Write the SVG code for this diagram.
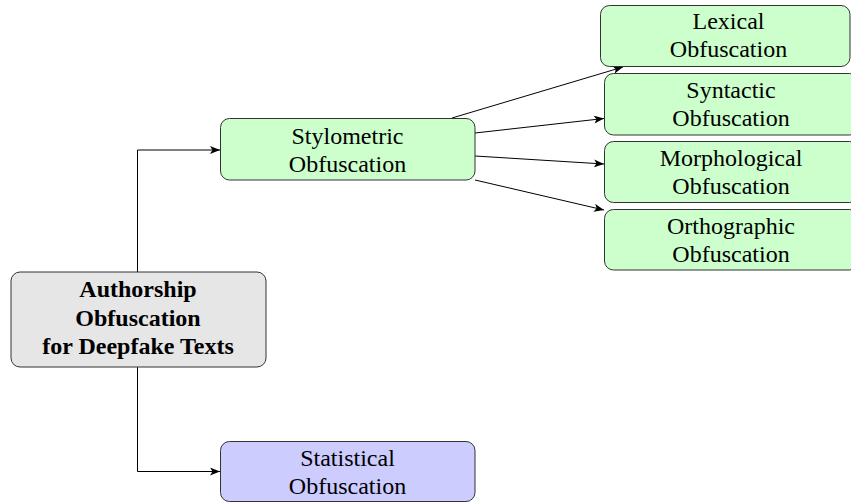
<svg xmlns="http://www.w3.org/2000/svg" width="851" height="503" viewBox="0 0 851 503">
  <style>
    .box { stroke: #333333; stroke-width: 1; }
    .root { fill: #e6e6e6; }
    .green { fill: #ccffcc; }
    .blue { fill: #ccccff; }
    .edge { fill: none; stroke: #000000; stroke-width: 1; }
  </style>
  <defs>
    <marker id="arrow" viewBox="0 0 10 8" refX="10" refY="4" markerWidth="10" markerHeight="8" markerUnits="userSpaceOnUse" orient="auto">
      <path d="M0,0 L10,4 L0,8 L2.5,4 Z" fill="#000000"/>
    </marker>
  </defs>

  <rect width="851" height="503" fill="#ffffff"/>

  <!-- connectors -->
  <g id="connectors">
    <polyline class="edge" points="137.5,272 137.5,150 220,150" marker-end="url(#arrow)"/>
    <polyline class="edge" points="137.5,367 137.5,471.5 220,471.5" marker-end="url(#arrow)"/>
    <line class="edge" x1="452" y1="118" x2="623" y2="67" marker-end="url(#arrow)"/>
    <line class="edge" x1="475" y1="133" x2="604" y2="118.5" marker-end="url(#arrow)"/>
    <line class="edge" x1="475" y1="156" x2="604" y2="164" marker-end="url(#arrow)"/>
    <line class="edge" x1="475" y1="180" x2="604" y2="210" marker-end="url(#arrow)"/>
  </g>

  <g font-family="Liberation Serif, DejaVu Serif, serif" font-size="24" text-anchor="middle" fill="#000000">
    <!-- root node -->
    <g id="authorship">
      <rect class="box root" x="11" y="272" width="255" height="95" rx="9"/>
      <text font-weight="bold" x="138" y="297">Authorship</text>
      <text font-weight="bold" x="138" y="325.5">Obfuscation</text>
      <text font-weight="bold" x="138" y="354">for Deepfake Texts</text>
    </g>

    <g id="stylometric">
      <rect class="box green" x="220.5" y="118.5" width="254.5" height="61.5" rx="9"/>
      <text x="347.5" y="143.5">Stylometric</text>
      <text x="347.5" y="171.5">Obfuscation</text>
    </g>

    <g id="statistical">
      <rect class="box blue" x="220.5" y="441.5" width="254.5" height="60" rx="9"/>
      <text x="347.5" y="465.5">Statistical</text>
      <text x="347.5" y="493.5">Obfuscation</text>
    </g>

    <g id="lexical">
      <rect class="box green" x="600.5" y="5.5" width="249.5" height="61" rx="9"/>
      <text x="728.5" y="28.5">Lexical</text>
      <text x="728.5" y="56.5">Obfuscation</text>
    </g>

    <g id="syntactic">
      <rect class="box green" x="604.5" y="73.5" width="254" height="61.5" rx="9"/>
      <text x="731" y="97.5">Syntactic</text>
      <text x="731" y="125.5">Obfuscation</text>
    </g>

    <g id="morphological">
      <rect class="box green" x="604.5" y="141.5" width="254" height="61" rx="9"/>
      <text x="731" y="165.5">Morphological</text>
      <text x="731" y="193.5">Obfuscation</text>
    </g>

    <g id="orthographic">
      <rect class="box green" x="604.5" y="209.5" width="254" height="60.5" rx="9"/>
      <text x="731" y="233.5">Orthographic</text>
      <text x="731" y="261.5">Obfuscation</text>
    </g>
  </g>
</svg>
